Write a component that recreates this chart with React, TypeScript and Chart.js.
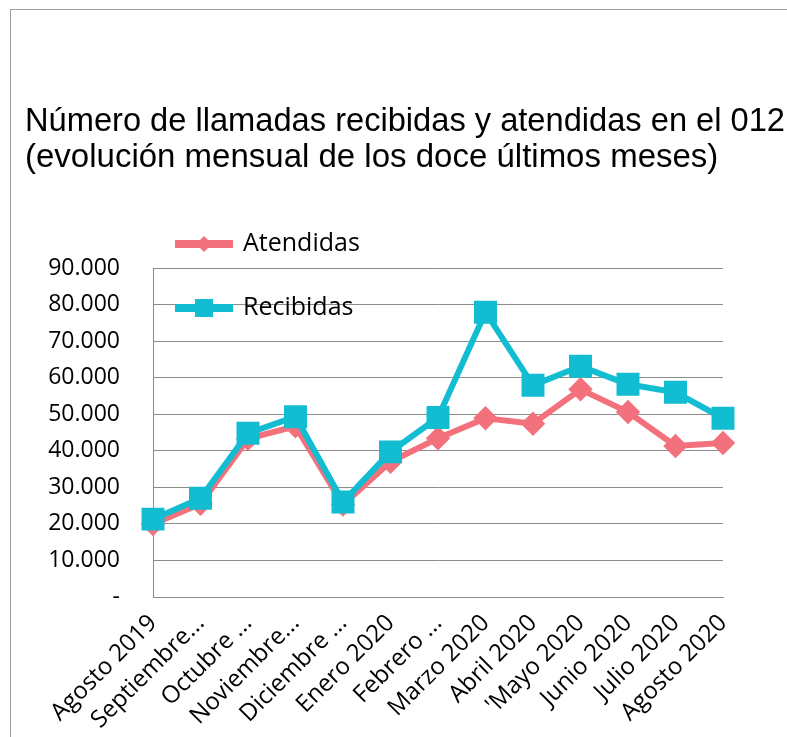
import React, { useEffect, useRef } from "react";
import { Chart, registerables } from "chart.js";

Chart.register(...registerables);

const categories = [
  "Agosto 2019",
  "Septiembre...",
  "Octubre ...",
  "Noviembre...",
  "Diciembre ...",
  "Enero 2020",
  "Febrero ...",
  "Marzo 2020",
  "Abril 2020",
  "'Mayo 2020",
  "Junio 2020",
  "Julio 2020",
  "Agosto 2020",
];

const atendidas = [20000, 25500, 43300, 46700, 25300, 37000, 43400, 48900, 47400, 56800, 50600, 41300, 42100];
const recibidas = [21300, 27000, 44800, 49300, 26000, 39700, 49100, 77900, 57900, 63100, 58200, 56000, 48900];

const titleLines = [
  "Número de llamadas recibidas y atendidas en el 012",
  "(evolución mensual de los doce últimos meses)",
];

const PINK = "#F2717C";
const CYAN = "#12BDD1";

function fmt(v: number): string {
  if (v === 0) return "-";
  return String(v).replace(/\B(?=(\d{3})+(?!\d))/g, ".");
}

const framePlugin = {
  id: "frame",
  beforeDraw(chart: any) {
    const ctx = chart.ctx;
    ctx.save();
    ctx.fillStyle = "#ffffff";
    ctx.fillRect(0, 0, chart.width, chart.height);
    ctx.strokeStyle = "#a0a0a0";
    ctx.lineWidth = 1;
    ctx.strokeRect(10.5, 9.5, chart.width + 20, chart.height + 20);
    ctx.restore();
  },
};

const titlePlugin = {
  id: "twoLineTitle",
  afterDraw(chart: any) {
    const ctx = chart.ctx;
    const x0 = 25;
    const targetWidths = [760, 0];
    const baselines = [130.5, 166.5];
    titleLines.forEach((t, i) => {
      ctx.save();
      ctx.fillStyle = "#000";
      ctx.font = "33px 'Liberation Sans'";
      ctx.textBaseline = "alphabetic";
      ctx.textAlign = "left";
      const w = ctx.measureText(t).width;
      const sx = targetWidths[i] > 0 && w > 0 ? targetWidths[i] / w : 1;
      ctx.translate(x0, baselines[i]);
      ctx.scale(sx, 1);
      ctx.fillText(t, 0, 0);
      ctx.restore();
    });
  },
};

const overlayLegend = {
  id: "overlayLegend",
  afterDraw(chart: any) {
    const ctx = chart.ctx;
    const ds = chart.data.datasets;
    const rows = [244, 308];
    ctx.save();
    ds.forEach((d: any, i: number) => {
      const y = rows[i];
      ctx.strokeStyle = d.borderColor;
      ctx.lineWidth = 8;
      ctx.beginPath();
      ctx.moveTo(175, y);
      ctx.lineTo(233, y);
      ctx.stroke();
      ctx.fillStyle = d.pointBackgroundColor;
      ctx.beginPath();
      if (d.pointStyle === "rect") {
        ctx.rect(195, y - 9, 18, 18);
      } else {
        ctx.moveTo(204, y - 8);
        ctx.lineTo(212, y);
        ctx.lineTo(204, y + 8);
        ctx.lineTo(196, y);
        ctx.closePath();
      }
      ctx.fill();
      ctx.fillStyle = "#000";
      ctx.font = "25px 'Open Sans'";
      ctx.textBaseline = "middle";
      ctx.textAlign = "left";
      ctx.fillText(d.label, 243, y);
    });
    ctx.restore();
  },
};

export default function App() {
  const ref = useRef<HTMLCanvasElement | null>(null);

  useEffect(() => {
    if (!ref.current) return;
    const chart = new Chart(ref.current, {
      type: "line",
      data: {
        labels: categories,
        datasets: [
          {
            label: "Atendidas",
            data: atendidas,
            borderColor: PINK,
            backgroundColor: PINK,
            pointBackgroundColor: PINK,
            pointBorderColor: PINK,
            pointStyle: "rectRot",
            pointRadius: 8,
            borderWidth: 6,
            tension: 0,
            order: 1,
          },
          {
            label: "Recibidas",
            data: recibidas,
            borderColor: CYAN,
            backgroundColor: CYAN,
            pointBackgroundColor: CYAN,
            pointBorderColor: CYAN,
            pointStyle: "rect",
            pointRadius: 12,
            borderWidth: 6,
            tension: 0,
            order: 0,
          },
        ],
      },
      options: {
        animation: false,
        responsive: false,
        maintainAspectRatio: false,
        layout: { padding: { left: 25, right: 64, top: 268, bottom: 0 } },
        plugins: {
          legend: { display: false },
          tooltip: { enabled: false },
          title: { display: false },
        },
        scales: {
          x: {
            grid: { display: false },
            border: { display: true, color: "#8c8c8c", width: 1 },
            ticks: {
              color: "#000",
              font: { family: "'Open Sans'", size: 24 },
              minRotation: 45,
              maxRotation: 45,
              autoSkip: false,
              padding: 4,
            },
            afterFit(scale: any) {
              scale.height = 140;
            },
          },
          y: {
            min: 0,
            max: 90000,
            grid: { color: "#8c8c8c", drawTicks: false, lineWidth: 1 },
            border: { display: true, color: "#8c8c8c", width: 1 },
            ticks: {
              stepSize: 10000,
              color: "#000",
              font: { family: "'Open Sans'", size: 23 },
              padding: 33,
              callback: (v: any) => fmt(Number(v)),
            },
            afterFit(scale: any) {
              scale.width = 128;
            },
          },
        },
      },
      plugins: [framePlugin, titlePlugin, overlayLegend],
    });
    return () => chart.destroy();
  }, []);

  return (
    <div style={{ position: "fixed", left: 0, top: 0, width: 787, height: 737 }}>
      <canvas ref={ref} width={787} height={737} style={{ width: 787, height: 737 }} />
    </div>
  );
}
